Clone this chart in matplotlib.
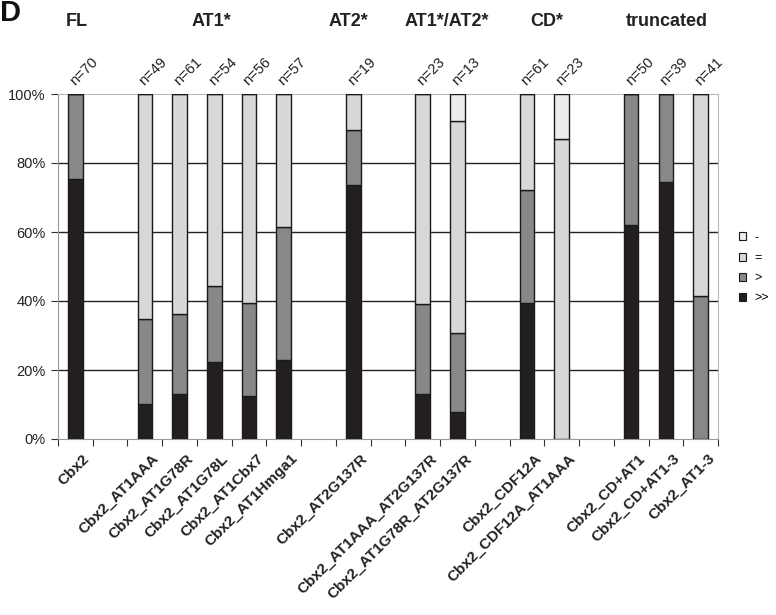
import numpy as np
import matplotlib
matplotlib.use("Agg")
import matplotlib.pyplot as plt
from matplotlib.patches import Patch

plt.rcParams['font.family'] = ['Liberation Sans', 'DejaVu Sans']

# slots on the category axis ('' = empty spacer slot)
labels = ['Cbx2', '', 'Cbx2_AT1AAA', 'Cbx2_AT1G78R', 'Cbx2_AT1G78L', 'Cbx2_AT1Cbx7',
          'Cbx2_AT1Hmga1', '', 'Cbx2_AT2G137R', '', 'Cbx2_AT1AAA_AT2G137R',
          'Cbx2_AT1G78R_AT2G137R', '', 'Cbx2_CDF12A', 'Cbx2_CDF12A_AT1AAA', '',
          'Cbx2_CD+AT1', 'Cbx2_CD+AT1-3', 'Cbx2_AT1-3']
n_counts = ['n=70', '', 'n=49', 'n=61', 'n=54', 'n=56', 'n=57', '', 'n=19', '',
            'n=23', 'n=13', '', 'n=61', 'n=23', '', 'n=50', 'n=39', 'n=41']

# percentages per class
pct_gg = [75.5, 0, 10.2, 13.1, 22.2, 12.5, 22.8, 0, 73.7, 0, 13.0, 7.7, 0, 39.3, 0, 0, 62.0, 74.4, 0]
pct_g = [24.5, 0, 24.5, 23.0, 22.2, 26.8, 38.6, 0, 15.8, 0, 26.1, 23.1, 0, 32.8, 0, 0, 38.0, 25.6, 41.5]
pct_eq = [0, 0, 65.3, 63.9, 55.6, 60.7, 38.6, 0, 10.5, 0, 60.9, 61.5, 0, 27.9, 87.0, 0, 0, 0, 58.5]
pct_dash = [0, 0, 0, 0, 0, 0, 0, 0, 0, 0, 0, 7.7, 0, 0, 13.0, 0, 0, 0, 0]

groups = ['FL', 'AT1*', 'AT2*', 'AT1*/AT2*', 'CD*', 'truncated']
group_x = [77, 211, 348, 447, 547, 667]  # pixel centres of group titles

colors = {'>>': '#231f20', '>': '#888888', '=': '#d8d8d8', '-': '#ededeb'}

fig = plt.figure(figsize=(7.76, 6.15), dpi=100)
ax = fig.add_axes([58 / 776, 1 - 439 / 615, 660 / 776, 345 / 615])

x = np.arange(len(labels))
w = 0.42
has_bar = [lab != '' for lab in labels]
xb = x[has_bar]

def sel(a):
    return np.array(a)[has_bar]

bottom = np.zeros(len(xb))
for key, vals in [('>>', pct_gg), ('>', pct_g), ('=', pct_eq), ('-', pct_dash)]:
    v = sel(vals)
    ax.bar(xb, v, w, bottom=bottom, color=colors[key], edgecolor='#1a1a1a',
           linewidth=1.0, zorder=3)
    bottom += v

ax.set_xlim(-0.5, len(labels) - 0.5)
ax.set_ylim(0, 100)
ax.set_yticks([0, 20, 40, 60, 80, 100])
ax.set_yticklabels(['0%', '20%', '40%', '60%', '80%', '100%'], fontsize=10.5, color='#222222')
for yv in [20, 40, 60, 80]:
    ax.axhline(yv, color='#222222', lw=1.0, zorder=1)

ax.set_xticks(np.arange(-0.5, len(labels), 1.0))
ax.set_xticklabels([])
ax.set_xticks(x + 0.2, minor=True)
ax.set_xticklabels(labels, minor=True, rotation=45, ha='right', va='top',
                   rotation_mode='anchor', fontsize=11, fontweight='bold', color='#222222')
ax.tick_params(axis='x', which='minor', length=0, pad=9)
ax.tick_params(axis='x', which='major', length=5, color='#333333', direction='out')
ax.tick_params(axis='y', length=5, color='#333333', pad=4)

for side in ['left', 'bottom']:
    ax.spines[side].set_color('#999999')
for side in ['top', 'right']:
    ax.spines[side].set_color('#bbbbbb')

# n labels above bars
for xi, t in zip(x, n_counts):
    if t:
        ax.annotate(t, (xi, 100), xytext=(-6, 4), textcoords='offset points',
                    rotation=45, ha='left', va='bottom', fontsize=10.5,
                    color='#222222', annotation_clip=False)

# group titles
for g, gx in zip(groups, group_x):
    fig.text(gx / 776, 1 - 22 / 615, g, ha='center', va='center',
             fontsize=13, fontweight='bold', color='#222222')

fig.text(0, 1 - 13 / 615, 'D', ha='left', va='center', fontsize=21,
         fontweight='bold', color='#111111')

handles = [Patch(facecolor=colors[k], edgecolor='#1a1a1a', linewidth=0.8, label=k)
           for k in ['-', '=', '>', '>>']]
fig.legend(handles=handles, loc='center left', bbox_to_anchor=(731 / 776, 1 - 268 / 615),
           frameon=False, fontsize=9, handlelength=0.6, handleheight=0.6,
           handletextpad=0.7, labelspacing=0.65, borderaxespad=0.2)

fig.savefig('out.png', dpi=100)
